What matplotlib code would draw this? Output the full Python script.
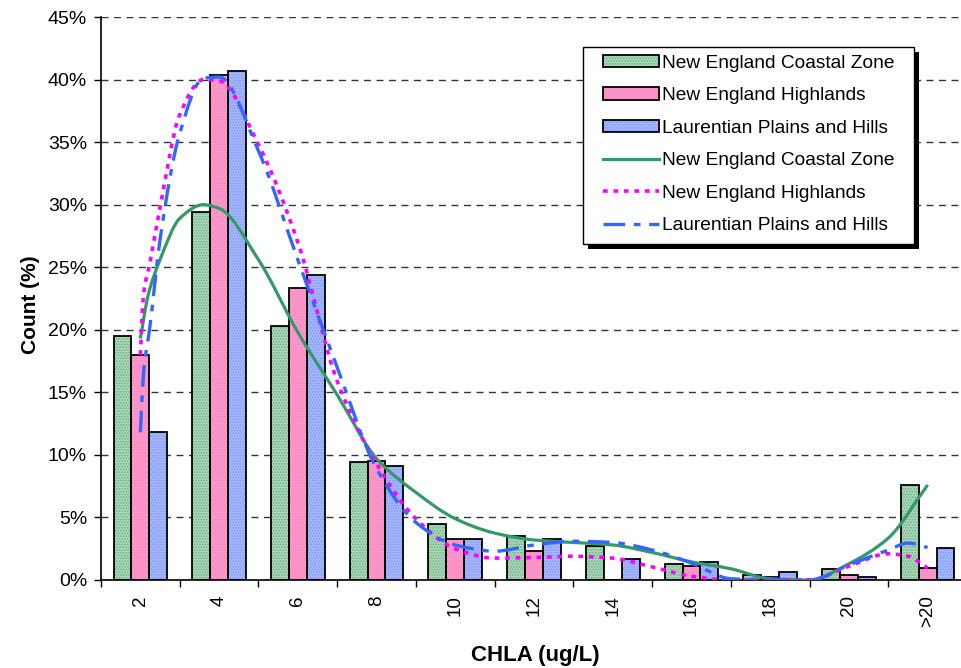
import numpy as np
import matplotlib.pyplot as plt
from matplotlib.path import Path
from matplotlib.patches import PathPatch, Patch, Rectangle
from matplotlib.lines import Line2D
from matplotlib.legend_handler import HandlerTuple, HandlerLine2D
import matplotlib.patheffects as pe

plt.rcParams['font.family'] = ['Liberation Sans', 'DejaVu Sans']
plt.rcParams['hatch.linewidth'] = 0.8

categories = ['2', '4', '6', '8', '10', '12', '14', '16', '18', '20', '>20']
coastal = [19.5, 29.4, 20.3, 9.4, 4.5, 3.5, 2.7, 1.3, 0.4, 0.9, 7.6]
highlands = [18.0, 40.4, 23.3, 9.5, 3.3, 2.3, 0.0, 1.1, 0.2, 0.4, 0.95]
laurentian = [11.8, 40.7, 24.4, 9.1, 3.3, 3.3, 1.7, 1.4, 0.6, 0.25, 2.55]

# smoothed curves (x in category steps)
coastal_cx = [0, 0.1, 0.25, 0.5, 0.8, 1, 1.5, 2, 2.5, 3, 3.5, 4, 4.5, 5, 5.5, 6, 6.5, 7, 7.5, 8, 8.5, 9, 9.5, 10]
coastal_cy = [19.3, 22.8, 25.6, 28.9, 30.0, 29.7, 25.6, 19.8, 14.8, 9.7, 7.0, 4.9, 3.75, 3.2, 3.0, 2.8, 2.2, 1.45, 0.9, 0.1, 0.0, 1.3, 3.35, 7.6]
highlands_cx = [0, 0.04, 0.12, 0.25, 0.5, 0.8, 1, 1.5, 2, 2.5, 3, 3.5, 4, 4.5, 5, 5.5, 6, 6.5, 7, 7.5, 8, 8.5, 9, 9.5, 9.75, 10]
highlands_cy = [18.0, 22.8, 25.3, 29.8, 37.2, 40.0, 39.9, 34.8, 27.0, 15.9, 9.3, 4.9, 2.5, 1.75, 1.8, 1.9, 1.75, 1.05, 0.3, 0.0, 0.0, 0.0, 1.1, 2.1, 1.9, 0.95]
laurentian_cx = [0, 0.04, 0.12, 0.25, 0.5, 0.8, 1, 1.5, 2, 2.5, 3, 3.5, 4, 4.5, 5, 5.5, 6, 6.5, 7, 7.5, 8, 8.5, 9, 9.5, 9.75, 10]
laurentian_cy = [11.8, 16.5, 20.2, 27.2, 35.7, 40.1, 40.2, 34.3, 25.6, 17.0, 8.9, 4.6, 2.8, 2.3, 2.8, 3.1, 3.0, 2.4, 1.35, 0.1, 0.0, 0.0, 1.2, 2.4, 2.95, 2.6]

names = ['New England Coastal Zone', 'New England Highlands', 'Laurentian Plains and Hills']
bar_face = ['#a8d8b8', '#ff99cc', '#a6b8ff']
bar_hatch = ['#6fae88', '#f286bd', '#7f97f5']
line_col = ['#339966', '#ff00ff', '#3366ff']


def slopes(xs, ys):
    # monotone (Fritsch-Carlson) tangents, keeps the curve from overshooting
    h = np.diff(xs)
    d = np.diff(ys) / h
    m = np.zeros_like(ys)
    m[0], m[-1] = d[0], d[-1]
    for i in range(1, len(xs) - 1):
        if d[i - 1] * d[i] > 0:
            w1 = 2 * h[i] + h[i - 1]
            w2 = h[i] + 2 * h[i - 1]
            m[i] = (w1 + w2) / (w1 / d[i - 1] + w2 / d[i])
    return m


def smooth_path(xs, ys):
    xs = np.asarray(xs, float)
    ys = np.asarray(ys, float)
    m = slopes(xs, ys)
    verts = [(xs[0], ys[0])]
    codes = [Path.MOVETO]
    for i in range(len(xs) - 1):
        h = xs[i + 1] - xs[i]
        verts += [(xs[i] + h / 3, ys[i] + m[i] * h / 3),
                  (xs[i + 1] - h / 3, ys[i + 1] - m[i + 1] * h / 3),
                  (xs[i + 1], ys[i + 1])]
        codes += [Path.CURVE4] * 3
    return Path(verts, codes)


fig = plt.figure(figsize=(9.61, 6.68), dpi=100)
ax = fig.add_axes([101 / 961, 1 - 580 / 668, 866 / 961, 563 / 668])

x = np.arange(len(categories))
w = 0.227
for j, vals in enumerate([coastal, highlands, laurentian]):
    pos = x + (j - 1) * w
    ax.bar(pos, vals, w, color=bar_face[j], edgecolor=bar_hatch[j], hatch='......', linewidth=0, zorder=2)
    ax.bar(pos, vals, w, fill=False, edgecolor='black', linewidth=1.3, zorder=3)

styles = [
    dict(linestyle='-'),
    dict(linestyle=(0, (1.3, 1.6))),
    dict(linestyle=(0, (6.5, 2.6, 2.0, 2.6))),
]
lws = [2.3, 2.6, 2.4]
curves = [(coastal_cx, coastal_cy), (highlands_cx, highlands_cy), (laurentian_cx, laurentian_cy)]
for j, (cx, cy) in enumerate(curves):
    pp = PathPatch(smooth_path(cx, cy), fill=False, edgecolor=line_col[j], linewidth=lws[j],
                   capstyle='butt', zorder=4, **styles[j])
    ax.add_patch(pp)

ax.set_xlim(-0.5, len(categories) - 0.5)
ax.set_ylim(0, 45)
ax.set_yticks(np.arange(0, 46, 5))
ax.set_yticklabels([f'{v}%' for v in range(0, 46, 5)], fontsize=14)
ax.yaxis.grid(True, color='#333333', linestyle=(0, (5, 4)), linewidth=1.0)
ax.set_axisbelow(True)

ax.set_xticks(x)
ax.set_xticklabels(categories, rotation=90, fontsize=13.5)
ax.set_xticks(np.arange(-0.5, len(categories), 1), minor=True)
ax.tick_params(axis='x', which='major', length=0, pad=11)
ax.tick_params(axis='x', which='minor', length=5, width=1, color='black')
ax.tick_params(axis='y', length=5, width=1, pad=5)

for s in ['top', 'right']:
    ax.spines[s].set_visible(False)
ax.spines['left'].set_linewidth(1.2)
ax.spines['bottom'].set_linewidth(1.2)

fig.text(30 / 961, 1 - 305 / 668, 'Count (%)', rotation=90, fontsize=15, fontweight='bold',
         ha='center', va='center')
fig.text(535 / 961, 1 - 655 / 668, 'CHLA (ug/L)', fontsize=16, fontweight='bold',
         ha='center', va='center')

# legend box with a hard black shadow (drawn just under the legend)
box = Rectangle((583 / 961, 1 - 244 / 668), (914 - 583) / 961, (244 - 47) / 668,
                transform=fig.transFigure, facecolor='white', edgecolor='black', linewidth=1.0,
                zorder=9, clip_on=False)
box.set_path_effects([pe.SimplePatchShadow(offset=(3.5, -3.5), shadow_rgbFace='black', alpha=1),
                      pe.Normal()])
ax.add_artist(box)

handles = []
for j in range(3):
    handles.append((Patch(facecolor=bar_face[j], edgecolor=bar_hatch[j], hatch='......', linewidth=0),
                    Patch(fill=False, edgecolor='black', linewidth=1.3)))
for j in range(3):
    handles.append(Line2D([], [], color=line_col[j], linewidth=lws[j], dash_capstyle='butt', **styles[j]))

xpad = 0.64
leg = ax.legend(handles, names + names,
                handler_map={tuple: HandlerTuple(ndivide=1, xpad=xpad),
                             Line2D: HandlerLine2D(xpad=xpad)},
                loc='upper left', bbox_to_anchor=(583 / 961, 1 - 47 / 668),
                bbox_transform=fig.transFigure, borderaxespad=0, fontsize=13.8,
                handlelength=3.56, handleheight=0.65, handletextpad=0.15, labelspacing=0.8,
                borderpad=0.4, frameon=False)
leg.set_zorder(10)

fig.savefig('out.png', dpi=100)
